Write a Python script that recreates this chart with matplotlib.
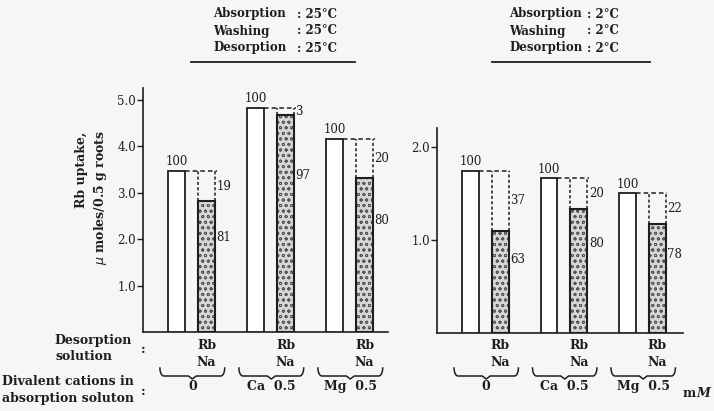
import numpy as np
import matplotlib
matplotlib.use("Agg")
import matplotlib.pyplot as plt
from matplotlib import transforms

# Rb uptake (umoles / 0.5 g roots) and % retained after Na desorption
groups = ["0", "Ca  0.5", "Mg  0.5"]
uptake_25 = [3.47, 4.82, 4.15]
retained_25 = [81, 97, 80]
uptake_2 = [1.74, 1.66, 1.50]
retained_2 = [63, 80, 78]

W, H = 714, 411
plt.rcParams['font.family'] = ['DejaVu Serif']
plt.rcParams['hatch.linewidth'] = 0.6
INK = '#1e1e1e'
BG = '#f6f6f4'

fig = plt.figure(figsize=(W / 100, H / 100), dpi=100, facecolor=BG)


def px(x, y):
    # pixel position -> figure fraction
    return x / W, 1 - y / H


def panel(rect, ylim, xlim, yticks, uptake, retained):
    ax = fig.add_axes(rect)
    ax.set_facecolor('none')
    x = np.arange(len(uptake))
    off, bw = 0.38, 0.215
    up = np.array(uptake)
    kept = up * np.array(retained) / 100.0
    gone = 100 - np.array(retained)

    ax.bar(x, up, bw, facecolor='white', edgecolor=INK, lw=1.3, zorder=3)
    ax.bar(x + off, kept, bw, facecolor='#d6d6d6', edgecolor='#555555',
           hatch='ooo', lw=0, zorder=3)
    ax.bar(x + off, kept, bw, fill=False, edgecolor=INK, lw=1.5, zorder=4)

    span = ylim[1]
    for i in range(len(up)):
        xl, xr = x[i] + off - bw / 2, x[i] + off + bw / 2
        ax.plot([x[i] + bw / 2, xr + 0.02], [up[i], up[i]], ls=(0, (3, 2)),
                color=INK, lw=1.1, zorder=2)
        for xe in (xl, xr):
            ax.plot([xe, xe], [kept[i], up[i]], ls=(0, (2, 1.5)),
                    color=INK, lw=1.1, zorder=2)
        ax.text(x[i], up[i] + span * 0.012, "100", ha='center', va='bottom',
                fontsize=8.5, color=INK)
        ax.text(xr + 0.02, (up[i] + kept[i]) / 2, str(gone[i]), ha='left',
                va='center', fontsize=8.5, color=INK)
        ax.text(xr + 0.02, kept[i] * 0.72, str(retained[i]), ha='left',
                va='center', fontsize=8.5, color=INK)

    ax.set_xlim(*xlim)
    ax.set_ylim(*ylim)
    ax.set_xticks([])
    ax.set_yticks(yticks)
    ax.set_yticklabels([f"{t:.1f}" for t in yticks], fontsize=8.5, color=INK)
    ax.tick_params(axis='y', direction='out', length=4, width=1.0, pad=1,
                   color=INK)
    for s in ('top', 'right'):
        ax.spines[s].set_visible(False)
    for s in ('left', 'bottom'):
        ax.spines[s].set_color(INK)
        ax.spines[s].set_linewidth(1.2)

    # desorption solution and absorption cations under each group
    tr = transforms.blended_transform_factory(ax.transData, fig.transFigure)
    for i, g in enumerate(groups):
        ax.text(x[i] + off, px(0, 345)[1], "Rb", transform=tr, ha='center',
                va='center', fontsize=9, fontweight='bold', color=INK)
        ax.text(x[i] + off, px(0, 362)[1], "Na", transform=tr, ha='center',
                va='center', fontsize=9, fontweight='bold', color=INK)
        c = x[i] + 0.2
        hw = 0.41
        t = np.linspace(0, np.pi / 2, 8)
        r = 0.05
        bx = np.concatenate([
            c - hw + r * (1 - np.cos(t)),
            [c - 0.05, c, c + 0.05],
            c + hw - r * (1 - np.cos(t[::-1])),
        ])
        by = np.concatenate([
            368 + 8 * np.sin(t),
            [376, 379, 376],
            368 + 8 * np.sin(t[::-1]),
        ])
        ax.plot(bx, 1 - by / H, transform=tr, color=INK, lw=1.1,
                clip_on=False)
        ax.text(c, px(0, 386)[1], g, transform=tr, ha='center', va='center',
                fontsize=9, fontweight='bold', color=INK)
    return ax


def rect(x0, x1, ytop, ybase):
    return [x0 / W, 1 - ybase / H, (x1 - x0) / W, (ybase - ytop) / H]


ax1 = panel(rect(143, 388, 88, 332), (0, 5.25), (-0.424, 2.677),
            [1.0, 2.0, 3.0, 4.0, 5.0], uptake_25, retained_25)
ax2 = panel(rect(437, 683, 128, 333), (0, 2.2), (-0.427, 2.707),
            [1.0, 2.0], uptake_2, retained_2)

# temperature headers
headers = [
    (213, 297, "25°C", 191, 355),
    (509, 587, "2°C", 492, 650),
]
names = ["Absorption", "Washing", "Desorption"]
for xn, xc, temp, u0, u1 in headers:
    for k, nm in enumerate(names):
        yy = 14 + 17 * k
        fig.text(*px(xn, yy), nm, ha='left', va='center', fontsize=8.5,
                 fontweight='bold', color=INK)
        fig.text(*px(xc, yy), ": " + temp, ha='left', va='center',
                 fontsize=8.5, fontweight='bold', color=INK)
    fig.add_artist(plt.Line2D([u0 / W, u1 / W], [1 - 62 / H, 1 - 62 / H],
                              color=INK, lw=1.3))

# y label
fig.text(*px(82, 132), "Rb uptake,", rotation=90, rotation_mode='anchor',
         ha='right', va='center', fontsize=9, fontweight='bold', color=INK)
fig.text(*px(101, 130), r"$\mu$ moles/0.5 g roots", rotation=90,
         rotation_mode='anchor', ha='right', va='center', fontsize=9,
         fontweight='bold', color=INK)

# row captions
fig.text(*px(132, 340), "Desorption", ha='right', va='center', fontsize=9,
         fontweight='bold', color=INK)
fig.text(*px(112, 356), "solution", ha='right', va='center', fontsize=9,
         fontweight='bold', color=INK)
fig.text(*px(143, 349), ":", ha='center', va='center', fontsize=9,
         fontweight='bold', color=INK)
fig.text(*px(2, 381), "Divalent cations in", ha='left', va='center',
         fontsize=9, fontweight='bold', color=INK)
fig.text(*px(2, 398), "absorption soluton", ha='left', va='center',
         fontsize=9, fontweight='bold', color=INK)
fig.text(*px(143, 391), ":", ha='center', va='center', fontsize=9,
         fontweight='bold', color=INK)
fig.text(*px(683, 393), "m", ha='left', va='center', fontsize=9,
         fontweight='bold', color=INK)
fig.text(*px(696, 393), "M", ha='left', va='center', fontsize=9,
         fontweight='bold', style='italic', color=INK)

fig.savefig("out.png", dpi=100, facecolor=BG)
